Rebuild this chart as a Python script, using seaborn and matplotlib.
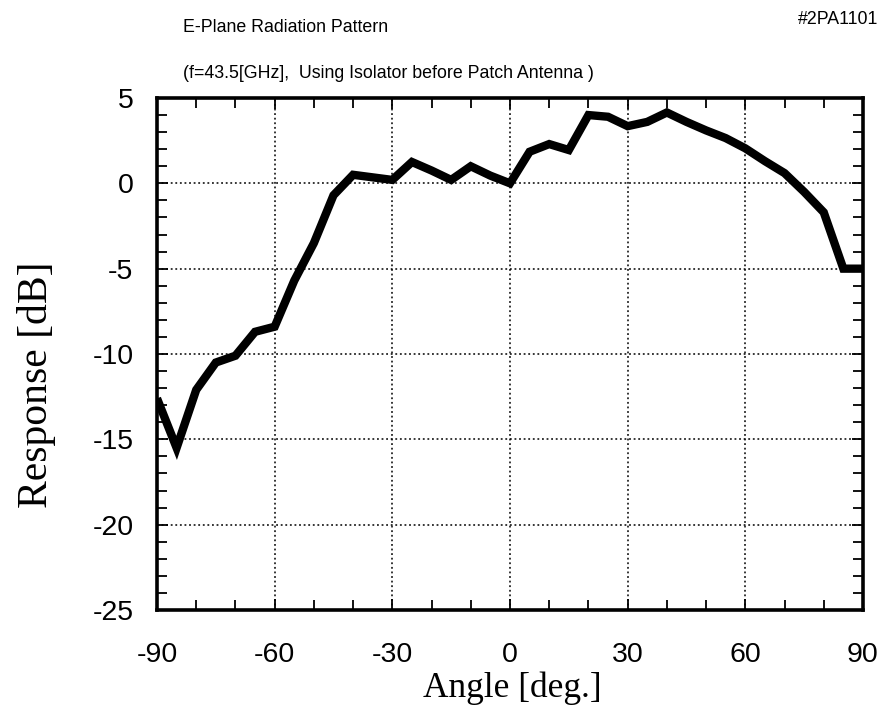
import matplotlib
matplotlib.use("Agg")
import matplotlib.pyplot as plt
from matplotlib.ticker import MultipleLocator
import numpy as np
import pandas as pd
import seaborn as sns

# Measured E-plane pattern, 5-degree steps
angle_deg = [-90, -85, -80, -75, -70, -65, -60, -55, -50, -45, -40, -35, -30,
             -25, -20, -15, -10, -5, 0, 5, 10, 15, 20, 25, 30, 35, 40, 45,
             50, 55, 60, 65, 70, 75, 80, 85, 90]
response_db = [-12.6, -15.5, -12.1, -10.5, -10.1, -8.7, -8.4, -5.7, -3.5, -0.7,
               0.5, 0.35, 0.2, 1.25, 0.75, 0.2, 1.0, 0.45, 0.0, 1.85, 2.3, 1.95,
               4.0, 3.9, 3.35, 3.6, 4.15, 3.6, 3.1, 2.65, 2.05, 1.3, 0.6, -0.5,
               -1.7, -5.0, -5.0]

x_ticks = [-90, -60, -30, 0, 30, 60, 90]
y_ticks = [-25, -20, -15, -10, -5, 0, 5]

df = pd.DataFrame({"angle": angle_deg, "response": response_db})

sns.set_style("white", {"text.color": "black", "axes.labelcolor": "black",
                        "xtick.color": "black", "ytick.color": "black",
                        "axes.edgecolor": "black"})
plt.rcParams["font.family"] = ["Liberation Sans", "DejaVu Sans"]

fig = plt.figure(figsize=(8.85, 7.08), dpi=100)
ax = fig.add_axes([0.1774, 0.1384, 0.7977, 0.7232])

sns.lineplot(data=df, x="angle", y="response", ax=ax, color="black",
             linewidth=6, solid_joinstyle="miter", solid_capstyle="butt")

ax.set_xlim(-90, 90)
ax.set_ylim(-25, 5)
ax.set_xticks(x_ticks)
ax.set_yticks(y_ticks)
ax.xaxis.set_minor_locator(MultipleLocator(10))
ax.yaxis.set_minor_locator(MultipleLocator(1))
ax.set_xticklabels([str(v) for v in x_ticks], fontsize=20.5, color="black")
ax.set_yticklabels([str(v) for v in y_ticks], fontsize=20.5, color="black")

ax.grid(True, which="major", color="black", linestyle=(0, (1.2, 1.8)),
        linewidth=1.1)
ax.tick_params(which="both", direction="in", top=True, right=True,
               bottom=True, left=True, color="black")
ax.tick_params(which="major", length=8, width=1.3)
ax.tick_params(which="minor", length=7, width=1.3)
ax.tick_params(axis="x", which="major", pad=23)
ax.tick_params(axis="y", which="major", pad=17)

for s in ax.spines.values():
    s.set_visible(True)
    s.set_color("black")
    s.set_linewidth(2.6)

ax.set_xlabel("Angle [deg.]", fontsize=25.5, family=["Liberation Serif"],
              color="black")
ax.set_ylabel("Response [dB]", fontsize=30, family=["Liberation Serif"],
              color="black")
ax.xaxis.label.set_va("center")
ax.yaxis.label.set_va("center")
ax.xaxis.set_label_coords(0.503, -0.152)
ax.yaxis.set_label_coords(-0.171, 0.439)

fig.text(183 / 885, 1 - 28 / 708, "E-Plane Radiation Pattern", fontsize=12.8,
         ha="left", va="center", color="black")
fig.text(878 / 885, 1 - 20 / 708, "#2PA1101", fontsize=12.8,
         ha="right", va="center", color="black")
fig.text(183 / 885, 1 - 73 / 708,
         "(f=43.5[GHz],  Using Isolator before Patch Antenna )",
         fontsize=12.8, ha="left", va="center", color="black")

fig.savefig("out.png", dpi=100)
